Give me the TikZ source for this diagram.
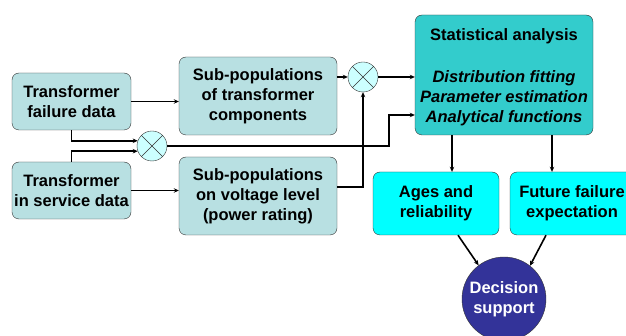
\documentclass[tikz,border=0pt]{standalone}
\usepackage{fontspec}
\setmainfont{Liberation Sans}
\usetikzlibrary{arrows.meta}
\definecolor{boxfill}{RGB}{184,224,226}
\definecolor{statfill}{RGB}{51,204,204}
\definecolor{outfill}{RGB}{0,255,255}
\definecolor{mixfill}{RGB}{204,255,255}
\definecolor{decfill}{RGB}{51,51,153}
\begin{document}
\begin{tikzpicture}[x=1pt,y=-1pt,
    font=\fontsize{16.5}{20}\selectfont\bfseries,
    box/.style={draw=black!80,rounded corners=7pt,fill=boxfill,align=center,inner sep=0pt},
    mixer/.style={draw=black!80,circle,fill=mixfill,minimum size=30pt,inner sep=0pt},
    link/.style={line width=1.6pt,-{Stealth[length=5pt,width=4.5pt]}}]
    \useasboundingbox (0,0) rectangle (626,336);
    % inputs
    \node[box,minimum width=119pt,minimum height=57pt] (fail) at (71.5,101.5) {Transformer\\failure data};
    \node[box,minimum width=119pt,minimum height=57pt] (serv) at (71.5,190.5) {Transformer\\in service data};
    \node[box,minimum width=158pt,minimum height=78pt] (subcomp) at (258,96) {Sub-populations\\of transformer\\components};
    \node[box,minimum width=158pt,minimum height=78pt] (subvolt) at (258,196) {Sub-populations\\on voltage level\\(power rating)};
    \node[mixer] (mixA) at (152,146) {};
    \node[mixer] (mixB) at (363,77) {};
    \draw[black!80] (mixA.45) -- (mixA.225) (mixA.135) -- (mixA.315);
    \draw[black!80] (mixB.45) -- (mixB.225) (mixB.135) -- (mixB.315);
    % analysis and results
    \node[box,fill=statfill,minimum width=178pt,minimum height=120pt] (stat) at (504,75) {};
    \node[align=center,inner sep=0pt] (stattext) at ([yshift=-2.5pt]stat.center)
        {Statistical analysis\\[22pt]\itshape Distribution fitting\\\itshape Parameter estimation\\\itshape Analytical functions};
    \node[box,fill=outfill,minimum width=126pt,minimum height=63pt] (ages) at (436,203.5) {Ages and\\reliability};
    \node[box,fill=outfill,minimum width=124pt,minimum height=63pt] (future) at (572,203.5) {Future failure\\expectation};
    \node[circle,draw=black!80,fill=decfill,text=white,minimum size=84pt,inner sep=0pt,align=center] (decision) at (504,299) {Decision\\support};
    \coordinate (kneeA) at (389,146);
    \coordinate (kneeB) at (389,115);
    % connectors
    \draw[link] (fail.east) -- (fail.east -| subcomp.west);
    \draw[link] (serv.east) -- (serv.east -| subvolt.west);
    \draw[link] (fail.south) |- (mixA.160);
    \draw[link] (serv.north) |- (mixA.200);
    \draw[link] (mixA.east) -- (kneeA) -- (kneeB) -- (kneeB -| stat.west);
    \draw[link] (subcomp.east |- mixB) -- (mixB.west);
    \draw[link] ([yshift=9pt]subvolt.east) -| (mixB.south);
    \draw[link] (mixB.east) -- (mixB.east -| stat.west);
    \draw[link] ([xshift=-52pt]stat.south) -- ([xshift=-52pt]stat.south |- ages.north);
    \draw[link] ([xshift=48pt]stat.south) -- ([xshift=48pt]stat.south |- future.north);
    \draw[link] ([xshift=22pt]ages.south) -- (decision.127);
    \draw[link] ([xshift=-26pt]future.south) -- (decision.52);
\end{tikzpicture}
\end{document}
